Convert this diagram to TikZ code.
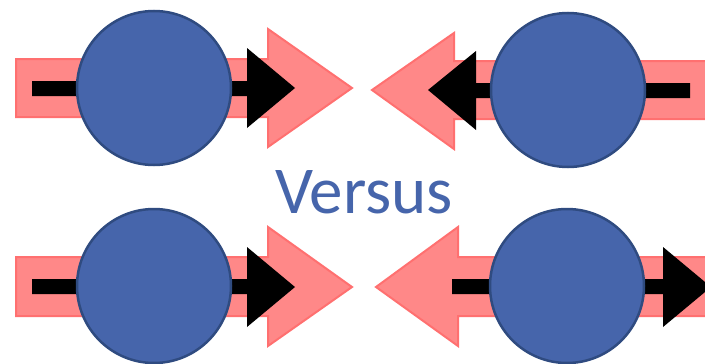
\documentclass[tikz,border=0pt]{standalone}
\usepackage{fontspec}
\setmainfont{Carlito}
\definecolor{pinkfill}{HTML}{FF8888}
\definecolor{pinkline}{HTML}{FF7070}
\definecolor{ballfill}{HTML}{4665AB}
\definecolor{ballline}{HTML}{2F4B80}
\tikzset{
  fat/.style={fill=pinkfill, draw=pinkline, line width=2pt, line join=miter},
  thin/.style={fill=black},
  ball/.style={circle, fill=ballfill, draw=ballline, line width=2.5pt,
    minimum size=154pt, inner sep=0pt},
}
\begin{document}
\begin{tikzpicture}[x=1pt, y=-1pt]
\useasboundingbox (0,0) rectangle (705,364);
\clip (0,0) rectangle (705,364);

% top left: both arrows point right
\filldraw[fat] (16,59) -- (268,59) -- (268,29) -- (352,88) -- (268,147) -- (268,117) -- (16,117) -- cycle;
\fill[thin] (32,81) -- (247,81) -- (247,48) -- (295,88) -- (247,128) -- (247,96) -- (32,96) -- cycle;
\node[ball] (tl) at (154,88) {};

% top right: both arrows point left
\filldraw[fat] (720,61) -- (454,61) -- (454,33) -- (372,90) -- (454,149) -- (454,119) -- (720,119) -- cycle;
\fill[thin] (690,83) -- (476,83) -- (476,51) -- (428,90) -- (476,130) -- (476,98) -- (690,98) -- cycle;
\node[ball] (tr) at (568,90) {};

% bottom left: both arrows point right
\filldraw[fat] (16,257) -- (268,257) -- (268,227) -- (352,287) -- (268,346) -- (268,316) -- (16,316) -- cycle;
\fill[thin] (32,279) -- (247,279) -- (247,247) -- (295,287) -- (247,327) -- (247,294) -- (32,294) -- cycle;
\node[ball] (bl) at (154,286) {};

% bottom right: wide arrow left, thin arrow right
\filldraw[fat] (720,257) -- (458,257) -- (458,227) -- (376,287) -- (458,346) -- (458,316) -- (720,316) -- cycle;
\fill[thin] (452,279) -- (663,279) -- (663,247) -- (711,287) -- (663,327) -- (663,294) -- (452,294) -- cycle;
\node[ball] (br) at (567,286) {};

\node[anchor=base, text=ballfill, font=\fontsize{67}{67}\selectfont, inner sep=0pt] (vs) at (364,213) {Versus};
\end{tikzpicture}
\end{document}
